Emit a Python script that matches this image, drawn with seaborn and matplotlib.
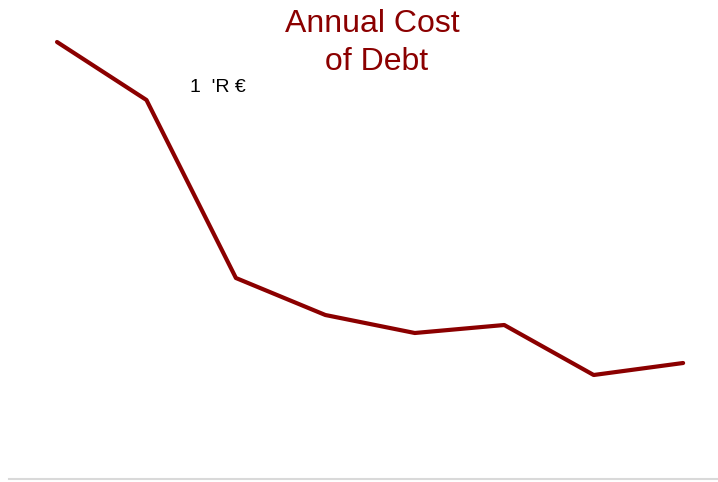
import numpy as np
import pandas as pd
import matplotlib.pyplot as plt
import seaborn as sns

periods = [0, 1, 2, 3, 4, 5, 6, 7]
cost = [437, 379, 201, 164, 146, 154, 104, 116]

sns.set_style("white")
plt.rcParams["font.family"] = ["Liberation Sans", "DejaVu Sans"]

df = pd.DataFrame({"period": periods, "cost": cost})

fig = plt.figure(figsize=(7.18, 4.82), dpi=100)
ax = fig.add_axes([9 / 718, 3 / 482, 709 / 718, 479 / 482])
sns.lineplot(data=df, x="period", y="cost", ax=ax, color="#8b0000", linewidth=3)

ax.set_xlim(-0.537, 7.39)
ax.set_ylim(0, 479)
ax.set_xticks([])
ax.set_yticks([])
ax.set_xlabel("")
ax.set_ylabel("")
for side in ["top", "left", "right"]:
    ax.spines[side].set_visible(False)
ax.spines["bottom"].set_color("#d9d9d9")
ax.spines["bottom"].set_linewidth(1.5)

fig.text(372 / 718, 1 - 9 / 482, "Annual Cost\n of Debt", ha="center", va="top",
         fontsize=23, color="#8b0000", linespacing=1.35)
fig.text(190 / 718, 1 - 88 / 482, "1  'R €", ha="left", va="center",
         fontsize=14, color="black")

fig.savefig("out.png", dpi=100)
